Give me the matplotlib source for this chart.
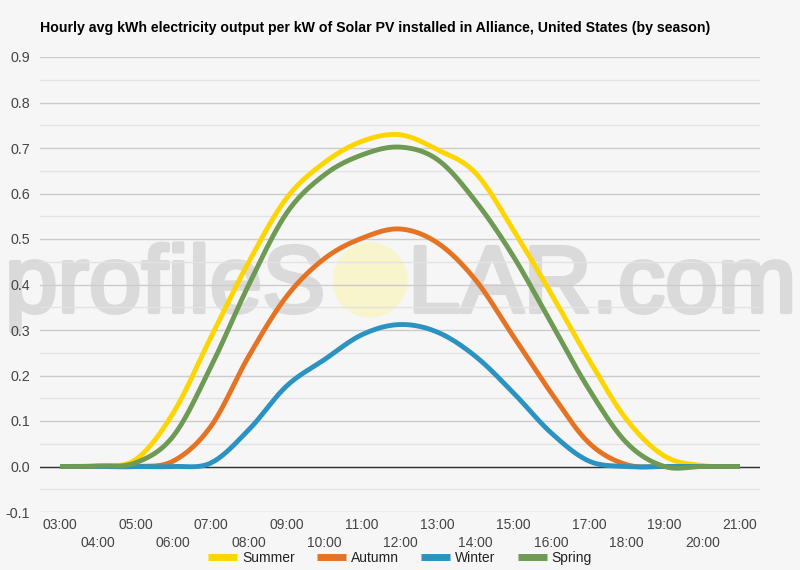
import numpy as np
import matplotlib
matplotlib.use("Agg")
import matplotlib.pyplot as plt
import matplotlib.patheffects as pe
from matplotlib.patches import Ellipse

# ---- data (hourly averages) ----
hours = list(range(3, 22))
hour_labels = [f"{h:02d}:00" for h in hours]
summer = [0.0, 0.002, 0.015, 0.118, 0.285, 0.45, 0.59, 0.668, 0.715, 0.729, 0.696, 0.645, 0.52, 0.38, 0.235, 0.103, 0.023, 0.002, 0.0]
autumn = [0.0, 0.0, 0.0, 0.012, 0.089, 0.243, 0.374, 0.457, 0.502, 0.522, 0.491, 0.41, 0.286, 0.162, 0.052, 0.004, 0.0, 0.0, 0.0]
winter = [0.0, 0.0, 0.0, 0.0, 0.008, 0.081, 0.177, 0.235, 0.29, 0.312, 0.295, 0.242, 0.162, 0.074, 0.012, 0.0, 0.0, 0.0, 0.0]
spring = [0.0, 0.001, 0.008, 0.067, 0.22, 0.40, 0.557, 0.641, 0.685, 0.702, 0.674, 0.583, 0.462, 0.316, 0.17, 0.052, 0.0, 0.0, 0.0]
series_names = ["Summer", "Autumn", "Winter", "Spring"]
title = "Hourly avg kWh electricity output per kW of Solar PV installed in Alliance, United States (by season)"

colors = ["#FFD500", "#E57324", "#2A93C2", "#6E9A53"]
BG = "#f6f6f6"
FONT = "Liberation Sans"
plt.rcParams["font.family"] = [FONT, "DejaVu Sans"]


def smooth(x, y, n=20):
    """Catmull-Rom style smooth rendering between the data points."""
    x = np.asarray(x, float)
    y = np.asarray(y, float)
    m = np.zeros_like(y)
    m[1:-1] = (y[2:] - y[:-2]) / (x[2:] - x[:-2])
    m[0] = (y[1] - y[0]) / (x[1] - x[0])
    m[-1] = (y[-1] - y[-2]) / (x[-1] - x[-2])
    xs, ys = [], []
    for i in range(len(x) - 1):
        h = x[i + 1] - x[i]
        t = np.linspace(0, 1, n, endpoint=False)
        h00 = 2 * t**3 - 3 * t**2 + 1
        h10 = t**3 - 2 * t**2 + t
        h01 = -2 * t**3 + 3 * t**2
        h11 = t**3 - t**2
        xs.append(x[i] + t * h)
        ys.append(h00 * y[i] + h10 * h * m[i] + h01 * y[i + 1] + h11 * h * m[i + 1])
    xs.append([x[-1]])
    ys.append([y[-1]])
    return np.concatenate(xs), np.concatenate(ys)


fig = plt.figure(figsize=(8, 5.7), dpi=100, facecolor=BG)
ax = fig.add_axes([0.05, 1 - 512 / 570, 0.90, (512 - 57) / 570])
ax.set_facecolor(BG)

# watermark (opaque light gray, below the grid lines)
WM = "#dadada"
wm_kw = dict(fontsize=68, color=WM, family=FONT,
             va="baseline", ha="left", zorder=0.3,
             transform=fig.transFigure, clip_on=False,
             path_effects=[pe.withStroke(linewidth=3, foreground=WM)])
ax.text(5 / 800, 1 - 312 / 570, "profileS", **wm_kw)
ax.text(408 / 800, 1 - 312 / 570, "LAR.com", **wm_kw)
ax.add_patch(Ellipse((370 / 800, 1 - 280 / 570), 75 / 800, 75 / 570,
                     transform=fig.transFigure, facecolor="#f8f4cc",
                     edgecolor="none", zorder=0.35, clip_on=False))

x = np.array(hours, float)
for name, vals, c in zip(series_names, [summer, autumn, winter, spring], colors):
    xs, ys = smooth(x, vals)
    ax.plot(xs, ys, color=c, lw=3.5, solid_capstyle="butt", label=name, zorder=3)

pad = 20 / (680 / 18)
ax.set_xlim(3 - pad, 21 + pad)
ax.set_ylim(-0.1, 0.9)

yt = np.round(np.arange(-0.1, 0.91, 0.1), 1)
ax.set_yticks(yt)
ax.set_yticklabels([f"{v:.1f}" for v in yt])
ax.set_yticks(np.round(np.arange(-0.05, 0.9, 0.1), 2), minor=True)
ax.yaxis.grid(True, which="major", color="#cccccc", lw=1, zorder=0.5)
ax.yaxis.grid(True, which="minor", color="#e3e3e3", lw=1, zorder=0.5)
ax.axhline(0, color="#333333", lw=1, zorder=2)

odd = [h for h in hours if h % 2 == 1]
even = [h for h in hours if h % 2 == 0]
ax.set_xticks(odd)
ax.set_xticklabels([hour_labels[hours.index(h)] for h in odd])
ax.set_xticks(even, minor=True)
ax.set_xticklabels([hour_labels[hours.index(h)] for h in even], minor=True)
ax.tick_params(axis="x", which="major", length=0, pad=4, labelsize=10, labelcolor="#444444")
ax.tick_params(axis="x", which="minor", length=0, pad=17, labelsize=10, labelcolor="#444444")
ax.tick_params(axis="y", which="both", length=0, pad=7, labelsize=10.3, labelcolor="#444444")
for s in ax.spines.values():
    s.set_visible(False)
ax.set_axisbelow(True)

fig.text(40 / 800, 1 - 28 / 570, title, fontsize=10.2, fontweight="bold",
         color="#000000", va="center", ha="left")

leg = fig.legend(loc="center", bbox_to_anchor=(0.5, 1 - 558 / 570), ncol=4,
                 frameon=False, fontsize=10, handlelength=2.1, handletextpad=0.35,
                 columnspacing=1.6)
for t in leg.get_texts():
    t.set_color("#222222")
for h in leg.legend_handles:
    h.set_linewidth(5)

fig.savefig("out.png", dpi=100, facecolor=BG)
